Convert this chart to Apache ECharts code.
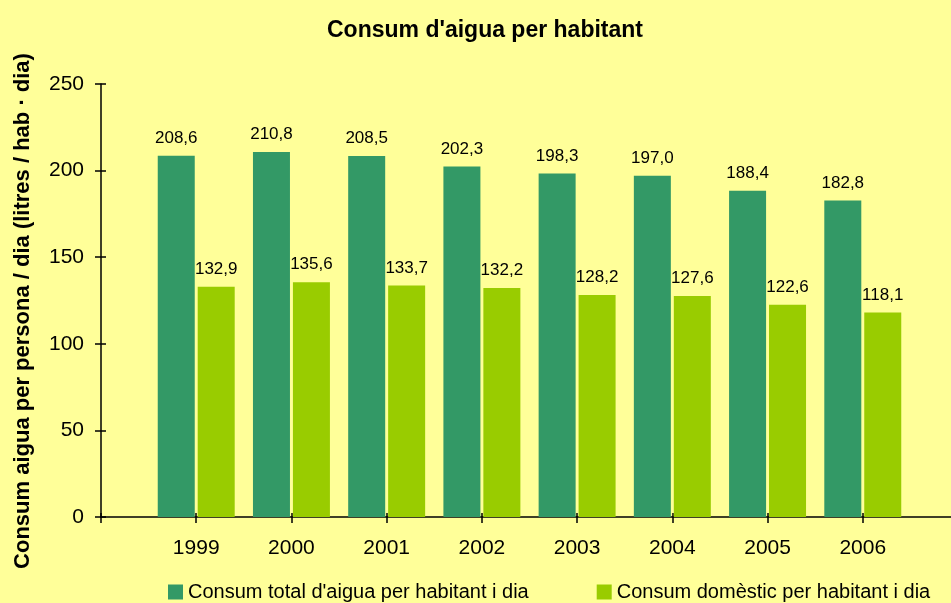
<!DOCTYPE html>
<html>
<head>
<meta charset="utf-8">
<script src="https://cdn.jsdelivr.net/npm/echarts@6/dist/echarts.min.js"></script>
<style>
  html, body { margin: 0; padding: 0; background: #FFFF99; }
  #chart { width: 951px; height: 603px; }
</style>
</head>
<body>
<div id="chart"></div>
<script>
// dades
var years = [1999, 2000, 2001, 2002, 2003, 2004, 2005, 2006];
var totalPerHab = [208.6, 210.8, 208.5, 202.3, 198.3, 197.0, 188.4, 182.8];
var domesticPerHab = [132.9, 135.6, 133.7, 132.2, 128.2, 127.6, 122.6, 118.1];
var seriesNames = ["Consum total d'aigua per habitant i dia", "Consum domèstic per habitant i dia"];
var yTicks = [0, 50, 100, 150, 200, 250];
var yName = 'Consum aigua per persona / dia (litres / hab · dia)';

var FONT = '"Liberation Sans", Arial, sans-serif';

function pairs(vals) {
    return years.map(function(y, i) { return [y, vals[i]]; });
}

function fmt(p) {
    return p.value[1].toFixed(1).replace('.', ',');
}

var chart = echarts.init(document.getElementById('chart'));

var labelStyle = {
    show: true,
    position: 'top',
    distance: 9,
    color: '#000',
    fontFamily: FONT,
    fontSize: 17,
    formatter: fmt
};

var option = {
    backgroundColor: '#FFFF99',
    animation: false,
    title: {
        text: "Consum d'aigua per habitant",
        left: 322,
        top: 14,
        textStyle: { fontFamily: FONT, fontSize: 23, fontWeight: 'bold', color: '#000' }
    },
    // titol de l'eix Y, girat
    graphic: [{
        type: 'text',
        x: 23,
        y: 311,
        rotation: Math.PI / 2,
        style: {
            text: yName,
            align: 'center',
            verticalAlign: 'middle',
            fontFamily: FONT,
            fontSize: 22,
            fontWeight: 'bold',
            fill: '#000'
        }
    }],
    legend: {
        left: 163,
        top: 577,
        itemWidth: 15,
        itemHeight: 15,
        itemGap: 68,
        icon: 'rect',
        textStyle: { fontFamily: FONT, fontSize: 20, color: '#000' },
        data: seriesNames
    },
    grid: { left: 101, width: 857, top: 84, bottom: 86, outerBoundsMode: 'none', containLabel: false },
    xAxis: [{
        type: 'value',
        min: years[0] - 1,
        max: years[years.length - 1] + 1,
        interval: 1,
        splitLine: { show: false },
        axisLine: { lineStyle: { color: '#000', width: 1.5 } },
        axisTick: { length: 6, lineStyle: { color: '#000', width: 1.5 } },
        axisLabel: {
            margin: 21,
            color: '#000',
            fontFamily: FONT,
            fontSize: 21,
            formatter: function(v) { return years.indexOf(v) >= 0 ? String(v) : ''; }
        }
    }, {
        type: 'value',
        position: 'bottom',
        min: years[0] - 1,
        max: years[years.length - 1] + 1,
        interval: 1,
        splitLine: { show: false },
        axisLine: { show: false },
        axisTick: { inside: true, length: 4, lineStyle: { color: '#000', width: 1.5 } },
        axisLabel: { show: false }
    }],
    yAxis: [{
        type: 'value',
        min: yTicks[0],
        max: yTicks[yTicks.length - 1],
        interval: 50,
        splitLine: { show: false },
        axisLine: { show: true, lineStyle: { color: '#000', width: 1.5 } },
        axisTick: { show: true, length: 6, lineStyle: { color: '#000', width: 1.5 } },
        axisLabel: { margin: 17, color: '#000', fontFamily: FONT, fontSize: 21 }
    }, {
        type: 'value',
        position: 'left',
        min: yTicks[0],
        max: yTicks[yTicks.length - 1],
        interval: 50,
        splitLine: { show: false },
        axisLine: { show: false },
        axisTick: { show: true, inside: true, length: 5, lineStyle: { color: '#000', width: 1.5 } },
        axisLabel: { show: false }
    }],
    series: [
        {
            name: seriesNames[0],
            type: 'bar',
            barWidth: 37,
            barGap: '8%',
            itemStyle: { color: '#339966' },
            label: labelStyle,
            data: pairs(totalPerHab)
        },
        {
            name: seriesNames[1],
            type: 'bar',
            barWidth: 37,
            barGap: '8%',
            itemStyle: { color: '#99CC00' },
            label: labelStyle,
            data: pairs(domesticPerHab)
        }
    ]
};

chart.setOption(option);
</script>
</body>
</html>
